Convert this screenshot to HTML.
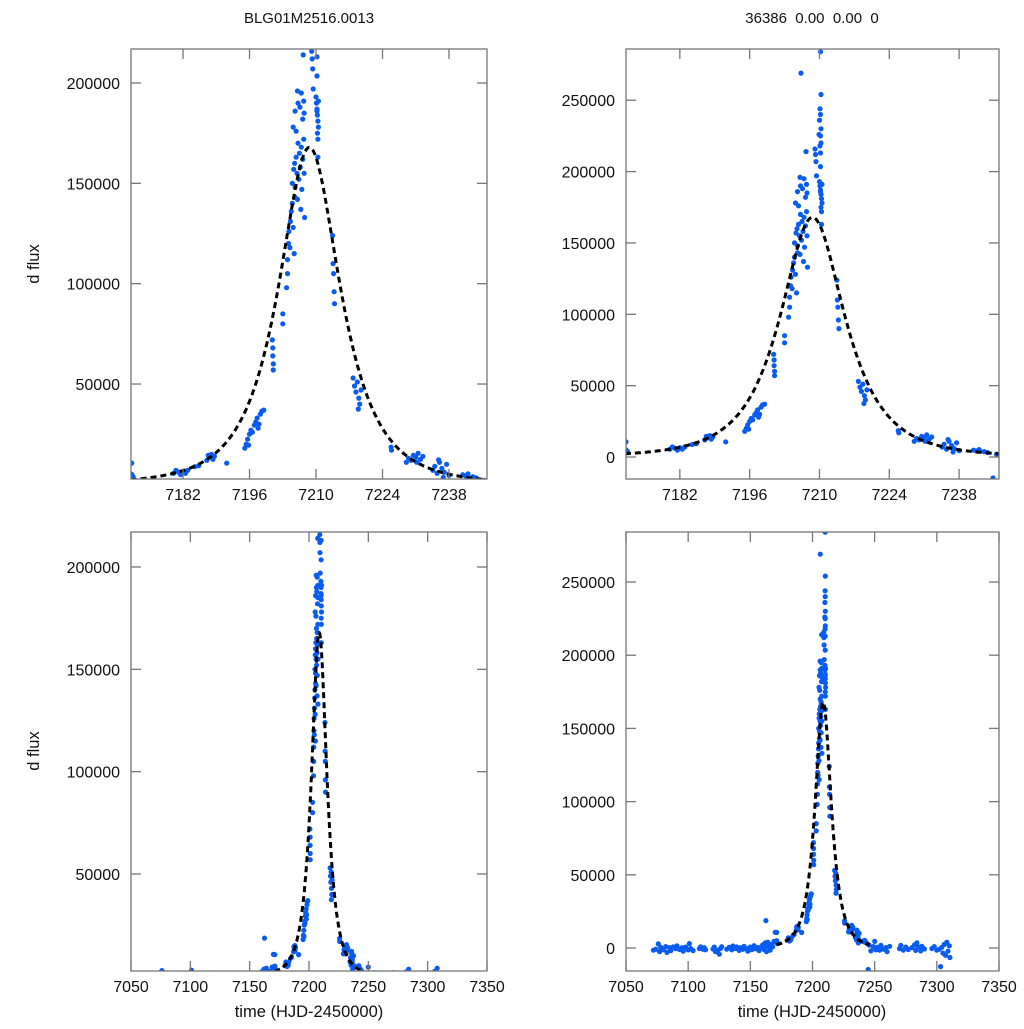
<!DOCTYPE html>
<html><head><meta charset="utf-8"><title>Microlensing light curve</title>
<style>
html,body{margin:0;padding:0;background:#fff;}
svg text{font-family:"Liberation Sans",sans-serif;fill:#111;}
</style></head>
<body>
<svg id="chart" width="1024" height="1024" viewBox="0 0 1024 1024" xmlns="http://www.w3.org/2000/svg">
<rect width="1024" height="1024" fill="#fff"/>
<text x="309" y="23" font-size="15" text-anchor="middle">BLG01M2516.0013</text>
<text x="812" y="23" font-size="15" text-anchor="middle" xml:space="preserve">36386  0.00  0.00  0</text>
<text x="39" y="264" font-size="16.5" text-anchor="middle" transform="rotate(-90 39 264)">d flux</text>
<text x="39" y="751" font-size="16.5" text-anchor="middle" transform="rotate(-90 39 751)">d flux</text>
<text x="309" y="1017" font-size="16.5" text-anchor="middle">time (HJD-2450000)</text>
<text x="812" y="1017" font-size="16.5" text-anchor="middle">time (HJD-2450000)</text>
</svg>
<script>
// ---- data ----
const obsTime = [7072,7074,7076,7077,7078,7080,7082,7083,7085,7086,7088,7090,7091,7093,7095,7096,7098,7100,7101,7102,7104,7109,7110,7112,7113,7114,7120,7121,7122,7124,7125,7126,7127,7131,7133,7135,7136,7138,7139,7141,7142,7144,7145,7147,7148,7150,7151,7153,7154,7156,7157,7159,7160,7161,7162,7162.5,7163,7163.5,7164,7165,7166,7167,7168,7169,7170,
7171.2,7171.2,7171.3,7171.5,7180,7180.5,7181,7181.5,7182,7182.5,7183,7184.5,7185.3,7187,7187.3,7187.6,7188,7188.3,7188.6,7191.2,
7195,7195.3,7195.6,7196,7196.3,7196.6,7197,7197.3,7197.6,7198,7198.3,7198.6,7199,7195.8,7197.8,
7200.8,7200.9,7200.9,7201,7201,7203,7203,
7203.8,7204,7204,7204.2,7204.3,7204.5,7204.6,7204.8,7205,7205.2,7205.4,7205.6,
7205,7205.3,7205.5,7205.6,7205.8,7206,7206.2,7206.4,7206.5,7206.7,7206.9,7207,7207.2,7207.4,7207.5,7207.6,7206.1,7206.8,
7205.2,7205.6,7205.8,7206.2,7206.6,7206.9,7207.2,7207.4,7207.5,7206.3,7206.1,7207.3,
7209.1,7209.2,7209.3,7209.4,7210.2,7210.2,7210,7210.1,7210.2,7210.3,7210.4,7210.5,7210.3,7210.4,7210.2,7210.5,7210.4,
7210.3,7210.1,7210.2,7210,7210.3,7210.2,7210.1,7210.3,7209.9,7210.2,
7213.5,7213.6,7213.7,7213.8,7213.9,
7217.8,7218.1,7218.4,7218.7,7219,7219.2,7219.5,7218.9,7225.8,7225.9,
7229,7229.5,7230,7230.5,7231,7231.5,7232,7232.5,7231.2,
7234.6,7235,7235.5,7236,7236.5,7237,7237.5,7238,7236.8,7235.8,
7240.9,7241.5,7242,7243,7243.7,7244.8,7245.5,
7247,7249,7250,7251,7252,7254,7255,7257,7259,7260,7262,7270,7271,7273,7275,7277,7280,7282,7283,7284,7285,7287,7288,7290,7296,7298,7300,7302,7303,7304,7305,7306,7307,7308,7309,7310,7310.5];
const obsFlux = [-1500,-800,2800,-2500,500,-1200,1000,-3000,300,-1800,800,-500,1500,-1000,200,-2200,600,-1300,3000,-400,-1800,-300,800,-900,200,-1200,-700,600,-2500,-1500,-4200,-300,900,-800,400,-1200,1400,-300,700,-1600,200,-900,1100,-400,-2200,600,-1200,1600,-500,300,-1800,900,2200,-1000,3500,18700,-2500,1200,4000,600,-1500,2500,800,4500,10700,
10600,5000,3300,3800,5500,7000,6200,4800,6500,5500,7000,8800,9300,12000,14500,13500,15000,12500,14000,10600,
18000,20000,22500,25000,27000,26000,29500,31000,33000,30000,35000,36500,37000,19500,28000,
72000,68000,64000,60000,57000,85000,80000,
98000,105000,112000,120000,126000,118000,131000,136000,140000,128000,115000,143000,
150000,157000,160000,148000,163000,155000,170000,152000,165000,158000,168000,147000,162000,172000,155000,133000,142000,137000,
178000,186000,176000,190000,188000,195000,182000,191000,185000,269000,196000,214000,
215800,212000,207000,197000,213000,203500,193000,190000,187000,184000,181000,178000,175000,172000,186000,191000,163000,
254000,244000,240000,236000,230000,225000,218000,220000,226000,284000,
124000,110000,105000,96000,90000,
53000,49000,46000,51000,43000,40000,47000,37500,18500,17000,
11000,13000,12000,14500,13500,15500,12500,14000,11000,
7000,9000,5500,11000,8000,6000,10000,4500,3500,12200,
4800,4200,5200,3800,3200,-14700,2000,
-2000,1000,4500,-1200,500,-1500,1800,-800,300,-2500,1200,-500,1800,-1400,600,-1000,300,2200,-1600,3500,800,-2000,1200,-700,-300,1000,-1500,-900,-12700,500,-3500,2500,-5000,4000,-2200,1500,-6500];
// model fit parameters (point-lens): t0, tE, u0, source flux
const modelT0 = [7208.6];
const modelTE = [10.7];
const modelU0 = [0.7];
const modelFs = [247400];
const modelRange = [7171, 7246];
const zoomTicksX = [7182,7196,7210,7224,7238];
const fullTicksX = [7050,7100,7150,7200,7250,7300,7350];
const leftTicksY = [50000,100000,150000,200000];
const rightTicksY = [0,50000,100000,150000,200000,250000];

const NS = 'http://www.w3.org/2000/svg';
const svg = document.getElementById('chart');
function mk(tag, attrs, parent){ const e=document.createElementNS(NS,tag); for(const k in attrs) e.setAttribute(k,attrs[k]); (parent||svg).appendChild(e); return e; }

function modelFlux(t){
  const tau=(t-modelT0[0])/modelTE[0];
  const u=Math.sqrt(modelU0[0]*modelU0[0]+tau*tau);
  const A=(u*u+2)/(u*Math.sqrt(u*u+4));
  return modelFs[0]*(A-1);
}

const panels = [
  {id:'top-left', x0:131,x1:487,y0:49,y1:479, tMin:7171.05,tMax:7246, fMin:2670,fMax:216940, xt:zoomTicksX, yt:leftTicksY},
  {id:'top-right', x0:626,x1:999,y0:49,y1:479, tMin:7171.2,tMax:7246, fMin:-15400,fMax:285900, xt:zoomTicksX, yt:rightTicksY},
  {id:'bottom-left', x0:131,x1:487,y0:532,y1:971, tMin:7050,tMax:7350, fMin:2610,fMax:217100, xt:fullTicksX, yt:leftTicksY},
  {id:'bottom-right', x0:626,x1:999,y0:532,y1:971, tMin:7050,tMax:7350, fMin:-15700,fMax:284150, xt:fullTicksX, yt:rightTicksY}
];

panels.forEach(function(p){
  const sx = t => p.x0 + (t-p.tMin)/(p.tMax-p.tMin)*(p.x1-p.x0);
  const sy = v => p.y1 - (v-p.fMin)/(p.fMax-p.fMin)*(p.y1-p.y0);
  const g = mk('g',{});
  
  
  const defs = mk('defs',{},g);
  const cp = mk('clipPath',{id:'clip-'+p.id},defs);
  mk('rect',{x:p.x0,y:p.y0,width:p.x1-p.x0,height:p.y1-p.y0},cp);
  const pts = mk('g',{'clip-path':'url(#clip-'+p.id+')'},g);
  
  
  for(let i=0;i<obsTime.length;i++){
    const c = mk('circle',{cx:sx(obsTime[i]).toFixed(1),cy:sy(obsFlux[i]).toFixed(1),r:2.6,fill:'#0a5cf0'},pts);
    
    
  }
  let d='';
  for(let t=modelRange[0]; t<=modelRange[1]; t+=0.1){
    d += (d?'L':'M')+sx(t).toFixed(1)+','+sy(modelFlux(t)).toFixed(1);
  }
  const ln = mk('path',{d:d,fill:'none',stroke:'#000','stroke-width':3,'stroke-dasharray':'6,4','clip-path':'url(#clip-'+p.id+')'},g);
  
  
  const fr = mk('rect',{x:p.x0,y:p.y0,width:p.x1-p.x0,height:p.y1-p.y0,fill:'none',stroke:'#777','stroke-width':1.3},g);
  
  
  p.xt.forEach(function(t){
    const x=sx(t);
    mk('line',{x1:x,x2:x,y1:p.y1,y2:p.y1-10,stroke:'#777','stroke-width':1.3},g);
    mk('line',{x1:x,x2:x,y1:p.y0,y2:p.y0+10,stroke:'#777','stroke-width':1.3},g);
    const tx = mk('text',{x:x,y:p.y1+21,'font-size':16,'text-anchor':'middle'},g);
    tx.textContent=t;
    
    
  });
  p.yt.forEach(function(v){
    const y=sy(v);
    mk('line',{x1:p.x0,x2:p.x0+10,y1:y,y2:y,stroke:'#777','stroke-width':1.3},g);
    mk('line',{x1:p.x1,x2:p.x1-10,y1:y,y2:y,stroke:'#777','stroke-width':1.3},g);
    const ty = mk('text',{x:p.x0-11,y:y+6,'font-size':16,'text-anchor':'end'},g);
    ty.textContent=v;
    
    
  });
});
</script>
</body></html>
